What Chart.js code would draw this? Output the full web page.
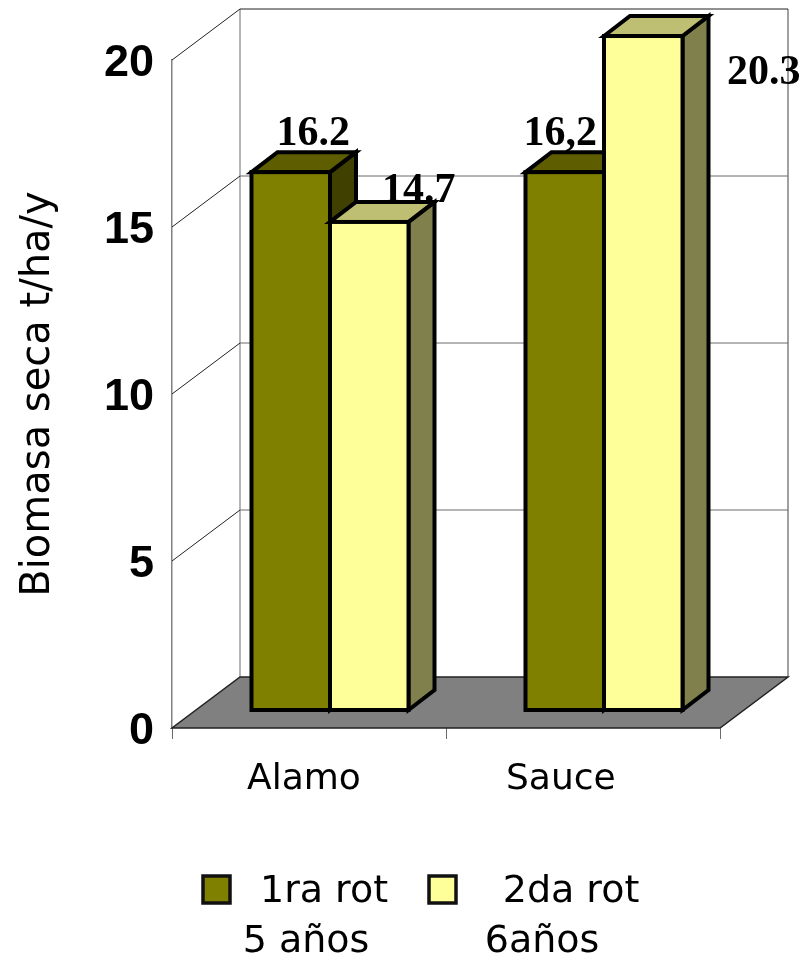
<!DOCTYPE html>
<html lang="es">
<head>
<meta charset="utf-8">
<title>Biomasa seca</title>
<style>
  html, body { margin: 0; padding: 0; background: #fff; }
  canvas { display: block; }
</style>
<script src="https://cdn.jsdelivr.net/npm/chart.js@4/dist/chart.umd.min.js"></script>
</head>
<body>
<canvas id="chart" width="806" height="959"></canvas>
<script>
// Chart values
const categories = ["Alamo", "Sauce"];
const firstRotation = [16.2, 16.2];
const secondRotation = [14.7, 20.3];
const firstRotationLabels = ["16.2", "16,2"];
const secondRotationLabels = ["14.7", "20.3"];
const legendFirst = ["1ra rot", "5 años"];
const legendSecond = ["2da rot", "6años"];
const axisTitle = "Biomasa seca t/ha/y";
const yTicks = [0, 5, 10, 15, 20];

// Oblique projection of the box the bars stand in
const WALL_DEPTH = { x: 68, y: -51 };
const BAR_DEPTH = { x: 26, y: -20 };
const BAR_SHIFT_X = 21;
const BAR_STROKE = 4;

// Value label offsets from the centre of each bar's top edge
const firstLabelNudge = [[22.5, -27], [-4.5, -27]];
const secondLabelNudge = [[49.5, -20], [120.5, 48]];

const COLORS = {
  olive: "#808000", oliveTop: "#5E5E00", oliveSide: "#404000",
  cream: "#FFFF99", creamTop: "#BFBF73", creamSide: "#80804D",
  floor: "#808080", grid: "#6A6A6A", wall: "#222222"
};
const HAND_FONT = "'DejaVu Sans', sans-serif";

function poly(ctx, pts, fill) {
  ctx.beginPath();
  pts.forEach((p, i) => i ? ctx.lineTo(p[0], p[1]) : ctx.moveTo(p[0], p[1]));
  ctx.closePath();
  ctx.fillStyle = fill;
  ctx.fill();
  ctx.stroke();
}

function line(ctx, x1, y1, x2, y2, color, width) {
  ctx.beginPath();
  ctx.moveTo(x1, y1);
  ctx.lineTo(x2, y2);
  ctx.strokeStyle = color;
  ctx.lineWidth = width;
  ctx.stroke();
}

// Back wall, side wall and floor, positioned from the value and category scales
const box3d = {
  id: "box3d",
  beforeDatasetsDraw(chart) {
    const { ctx, scales: { x, y } } = chart;
    const dx = WALL_DEPTH.x, dy = WALL_DEPTH.y;
    const left = x.left, right = x.right, y0 = y.getPixelForValue(0), yTop = y.getPixelForValue(20);
    ctx.save();
    line(ctx, left + dx, yTop + dy, left + dx, y0 + dy, COLORS.grid, 1);
    line(ctx, right + dx, yTop + dy, right + dx, y0 + dy, COLORS.floor, 1.5);
    yTicks.slice(1).forEach(v => {
      const p = y.getPixelForValue(v);
      line(ctx, left, p, left + dx, p + dy, COLORS.wall, 1);
      line(ctx, left + dx, p + dy, right + dx, p + dy, v === 20 ? COLORS.wall : COLORS.grid, 1);
    });
    ctx.strokeStyle = COLORS.wall;
    ctx.lineWidth = 1.5;
    poly(ctx, [[left, y0], [right, y0], [right + dx, y0 + dy], [left + dx, y0 + dy]], COLORS.floor);
    ctx.restore();
  }
};

// Extruded bars. Datasets are painted first to last so that each bar
// overlaps the side face of the one on its left.
const bars3d = {
  id: "bars3d",
  beforeDatasetDraw() {
    return false;
  },
  afterDatasetsDraw(chart) {
    const ctx = chart.ctx;
    chart.data.datasets.forEach((ds, index) => {
      const meta = chart.getDatasetMeta(index);
      ctx.save();
      ctx.translate(BAR_SHIFT_X, 0);
      ctx.strokeStyle = "#000";
      ctx.lineWidth = BAR_STROKE;
      ctx.lineJoin = "miter";
      meta.data.forEach(bar => {
        const l = bar.x - bar.width / 2, r = bar.x + bar.width / 2;
        const t = bar.y, b = bar.base, dx = BAR_DEPTH.x, dy = BAR_DEPTH.y;
        poly(ctx, [[r, t], [r + dx, t + dy], [r + dx, b + dy], [r, b]], ds.sideColor);
        poly(ctx, [[l, t], [l + dx, t + dy], [r + dx, t + dy], [r, t]], ds.topColor);
      });
      meta.controller.draw();
      ctx.strokeStyle = "#000";
      ctx.lineWidth = BAR_STROKE;
      meta.data.forEach(bar => {
        ctx.strokeRect(bar.x - bar.width / 2, bar.y, bar.width, bar.base - bar.y);
      });
      ctx.restore();
    });
  }
};

// Value labels above the bars and the two-line legend below the axis
const annotations = {
  id: "annotations",
  afterDatasetsDraw(chart) {
    const ctx = chart.ctx;
    ctx.save();
    ctx.fillStyle = "#000";
    ctx.textAlign = "center";
    ctx.textBaseline = "alphabetic";
    ctx.font = "bold 42px 'Liberation Serif', serif";
    [[firstRotationLabels, firstLabelNudge], [secondRotationLabels, secondLabelNudge]].forEach(([texts, nudge], d) => {
      chart.getDatasetMeta(d).data.forEach((bar, i) => {
        ctx.fillText(texts[i], bar.x + BAR_SHIFT_X + nudge[i][0], bar.y + nudge[i][1]);
      });
    });

    const entries = [
      { box: 203, lines: legendFirst, xs: [324, 306], color: COLORS.olive },
      { box: 429, lines: legendSecond, xs: [571, 542], color: COLORS.cream }
    ];
    ctx.font = "38px " + HAND_FONT;
    entries.forEach(e => {
      ctx.fillStyle = e.color;
      ctx.strokeStyle = "#111";
      ctx.lineWidth = 3.5;
      ctx.fillRect(e.box, 876, 27, 27);
      ctx.strokeRect(e.box, 876, 27, 27);
      ctx.fillStyle = "#000";
      ctx.fillText(e.lines[0], e.xs[0], 902);
      ctx.fillText(e.lines[1], e.xs[1], 952);
    });
    ctx.restore();
  }
};

new Chart(document.getElementById("chart"), {
  type: "bar",
  data: {
    labels: categories,
    datasets: [
      { label: "1ra rot 5 años", data: firstRotation, backgroundColor: COLORS.olive,
        topColor: COLORS.oliveTop, sideColor: COLORS.oliveSide, borderWidth: 0,
        yAxisID: "yBars", clip: false },
      { label: "2da rot 6años", data: secondRotation, backgroundColor: COLORS.cream,
        topColor: COLORS.creamTop, sideColor: COLORS.creamSide, borderWidth: 0,
        yAxisID: "yBars", clip: false }
    ]
  },
  options: {
    responsive: false,
    animation: false,
    devicePixelRatio: 1,
    layout: { padding: { top: 60, right: 86, left: 0, bottom: 0 } },
    datasets: { bar: { categoryPercentage: 0.573, barPercentage: 1 } },
    plugins: { legend: { display: false }, tooltip: { enabled: false } },
    scales: {
      x: {
        afterFit(scale) { scale.height = 231; },
        offset: true,
        grid: { offset: true, drawOnChartArea: false, color: COLORS.grid, tickLength: 11 },
        border: { display: false },
        ticks: {
          padding: 19,
          color: "#000",
          labelOffset: -5,
          maxRotation: 0,
          font: { family: HAND_FONT, size: 36 },
          // Sauce sits left of its slot, the trailing spaces push it there
          callback(value, i) { return i === 1 ? categories[i] + "   " : categories[i]; }
        }
      },
      y: {
        afterFit(scale) { scale.width = 172; },
        min: 0,
        max: 20,
        grid: { display: false, drawTicks: false },
        border: { display: true, color: COLORS.floor, width: 1.5 },
        ticks: {
          stepSize: 5,
          padding: 18,
          color: "#000",
          labelOffset: 4,
          font: { family: "'Liberation Sans', Arial, sans-serif", size: 45, weight: "bold" }
        },
        title: {
          display: true,
          text: axisTitle,
          color: "#000",
          padding: { top: 15, bottom: 0 },
          font: { family: HAND_FONT, size: 40 }
        }
      },
      // Bars stand on a plane set in from the front edge of the floor
      yBars: { display: false, min: -0.542, max: 19.578 }
    }
  },
  plugins: [box3d, bars3d, annotations]
});
</script>
</body>
</html>
